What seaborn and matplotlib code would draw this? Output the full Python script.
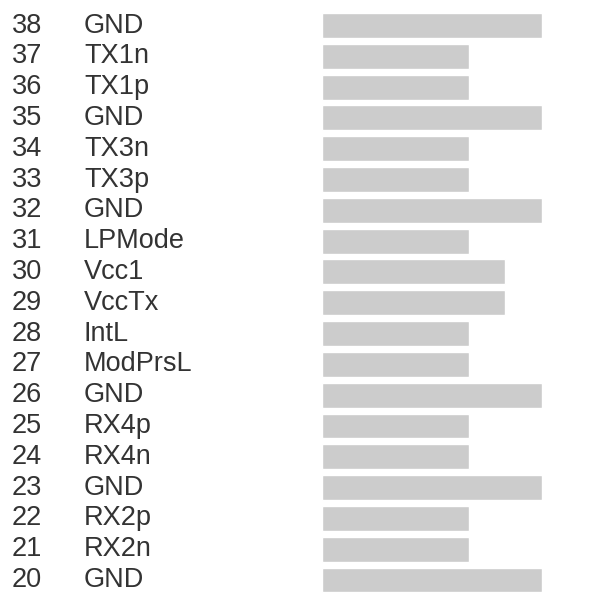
import matplotlib
matplotlib.use('Agg')
import matplotlib.pyplot as plt
import matplotlib.transforms as mtransforms
import pandas as pd
import seaborn as sns

# pin table (top to bottom)
pins = [38, 37, 36, 35, 34, 33, 32, 31, 30, 29, 28, 27, 26, 25, 24, 23, 22, 21, 20]
names = ['GND', 'TX1n', 'TX1p', 'GND', 'TX3n', 'TX3p', 'GND', 'LPMode', 'Vcc1',
         'VccTx', 'IntL', 'ModPrsL', 'GND', 'RX4p', 'RX4n', 'GND', 'RX2p', 'RX2n', 'GND']
lengths = [6, 4, 4, 6, 4, 4, 6, 4, 5, 5, 4, 4, 6, 4, 4, 6, 4, 4, 6]

sns.set_style('white')
plt.rcParams['font.family'] = ['Liberation Sans', 'DejaVu Sans']

df = pd.DataFrame({'pin': [str(p) for p in pins], 'name': names, 'length': lengths})

fig = plt.figure(figsize=(6.11, 5.96), dpi=100)
ax = fig.add_axes([322 / 611, 0.001, 220 / 611, 0.982])

sns.barplot(data=df, x='length', y='pin', order=df['pin'], color='#cccccc',
            saturation=1, width=0.81, ax=ax)
ax.set_xlim(0, 6)
ax.set_ylim(len(pins) - 0.5, -0.5)
ax.axis('off')

trans = mtransforms.blended_transform_factory(fig.transFigure, ax.transData)
for i, (p, n) in enumerate(zip(pins, names)):
    ax.text(12 / 611, i, str(p), transform=trans, ha='left', va='center',
            fontsize=19.5, color='#333333')
    ax.text(84 / 611, i, n, transform=trans, ha='left', va='center',
            fontsize=19.5, color='#333333')

fig.savefig('out.png', dpi=100, facecolor='white')
